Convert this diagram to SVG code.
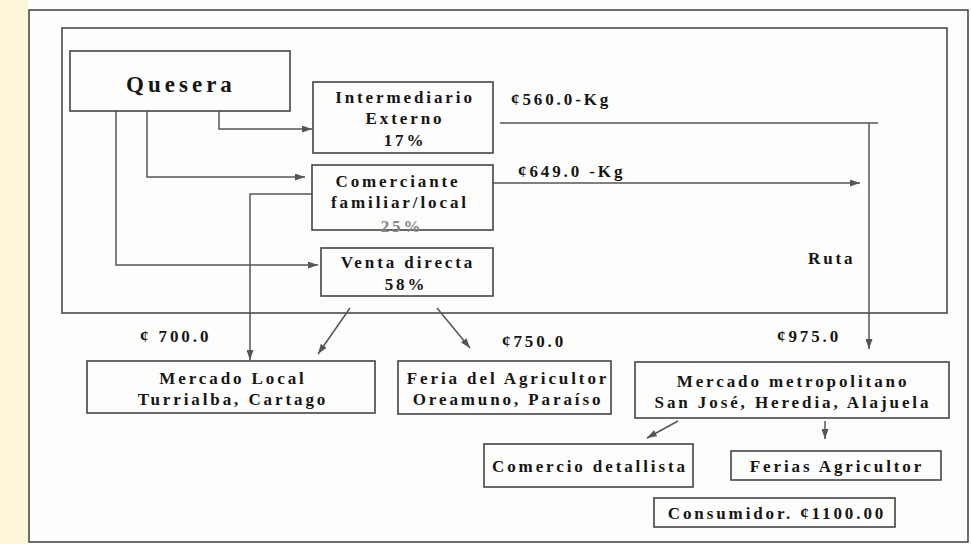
<svg xmlns="http://www.w3.org/2000/svg" width="971" height="544" viewBox="0 0 971 544">
<style>
.box{fill:none;stroke:#444;stroke-width:1.6}
.frame{fill:none;stroke:#4a4a4a;stroke-width:1.6}
.t{font-family:"Liberation Serif","Times New Roman",serif;font-weight:bold;font-size:17px;letter-spacing:2.9px;fill:#151515}
.c{text-anchor:middle}
.big{font-size:23px;letter-spacing:4px}
.con{fill:none;stroke:#555;stroke-width:1.5}
</style>
<defs>
<marker id="ah" markerUnits="userSpaceOnUse" markerWidth="10" markerHeight="7" viewBox="0 0 10 7" refX="10" refY="3.5" orient="auto">
<path d="M0,0 L10,3.5 L0,7 z" fill="#555"/>
</marker>
</defs>
<rect x="0" y="0" width="971" height="544" fill="#fdfdfb"/>
<rect x="0" y="0" width="28" height="544" fill="#fdf5d8"/>
<rect class="frame" x="29" y="10" width="939" height="532"/>
<rect class="frame" x="62" y="28" width="885" height="285"/>

<g id="connectors">
<polyline class="con" points="116,111 116,265 318,265" marker-end="url(#ah)"/>
<polyline class="con" points="147,111 147,177 305,177" marker-end="url(#ah)"/>
<polyline class="con" points="219,111 219,129 312,129" marker-end="url(#ah)"/>
<polyline class="con" points="312,194 250,194 250,360" marker-end="url(#ah)"/>
<polyline class="con" points="493,183 860,183" marker-end="url(#ah)"/>
<polyline class="con" points="500,123 878,123"/>
<polyline class="con" points="869,123 869,349" marker-end="url(#ah)"/>
<line class="con" x1="350" y1="308" x2="318" y2="354" marker-end="url(#ah)"/>
<line class="con" x1="437" y1="308" x2="470" y2="348" marker-end="url(#ah)"/>
<line class="con" x1="678" y1="421" x2="647" y2="438" marker-end="url(#ah)" stroke="#222"/>
<line class="con" x1="825" y1="421" x2="825" y2="439" marker-end="url(#ah)" stroke="#222"/>
</g>

<g id="labels">
<text class="t" x="511" y="105">¢560.0-Kg</text>
<text class="t" x="518" y="177">¢649.0 -Kg</text>
<text class="t" x="808" y="264">Ruta</text>
<text class="t" x="140" y="342">¢ 700.0</text>
<text class="t" x="502" y="347">¢750.0</text>
<text class="t" x="777" y="342">¢975.0</text>
</g>

<g id="quesera">
<rect class="box" x="70" y="51" width="220" height="60"/>
<text class="t c big" x="181" y="92">Quesera</text>
</g>
<g id="intermediario">
<rect class="box" x="313" y="82" width="180" height="71"/>
<text class="t c" x="405" y="103">Intermediario</text>
<text class="t c" x="405" y="124">Externo</text>
<text class="t c" x="405" y="146">17%</text>
</g>
<g id="comerciante">
<rect class="box" x="312" y="165" width="181" height="65"/>
<text class="t c" x="398" y="187">Comerciante</text>
<text class="t c" x="400" y="208">familiar/local</text>
<text class="t c" x="402" y="232" style="fill:#888">25%</text>
</g>
<g id="venta">
<rect class="box" x="321" y="248" width="172" height="48"/>
<text class="t c" x="408" y="268">Venta directa</text>
<text class="t c" x="406" y="290">58%</text>
</g>
<g id="mercado-local">
<rect class="box" x="87" y="361" width="288" height="52"/>
<text class="t c" x="233" y="384">Mercado Local</text>
<text class="t c" x="233" y="405">Turrialba, Cartago</text>
</g>
<g id="feria">
<rect class="box" x="398" y="361" width="213" height="53"/>
<text class="t c" x="508" y="384">Feria del Agricultor</text>
<text class="t c" x="508" y="405">Oreamuno, Paraíso</text>
</g>
<g id="mercado-metro">
<rect class="box" x="635" y="362" width="314" height="56"/>
<text class="t c" x="793" y="387">Mercado metropolitano</text>
<text class="t c" x="793" y="408">San José, Heredia, Alajuela</text>
</g>
<g id="comercio">
<rect class="box" x="484" y="444" width="209" height="43"/>
<text class="t c" x="590" y="472">Comercio detallista</text>
</g>
<g id="ferias">
<rect class="box" x="731" y="451" width="210" height="29"/>
<text class="t c" x="837" y="472">Ferias Agricultor</text>
</g>
<g id="consumidor">
<rect class="box" x="654" y="498" width="241" height="29"/>
<text class="t c" x="777" y="519">Consumidor. ¢1100.00</text>
</g>
</svg>
